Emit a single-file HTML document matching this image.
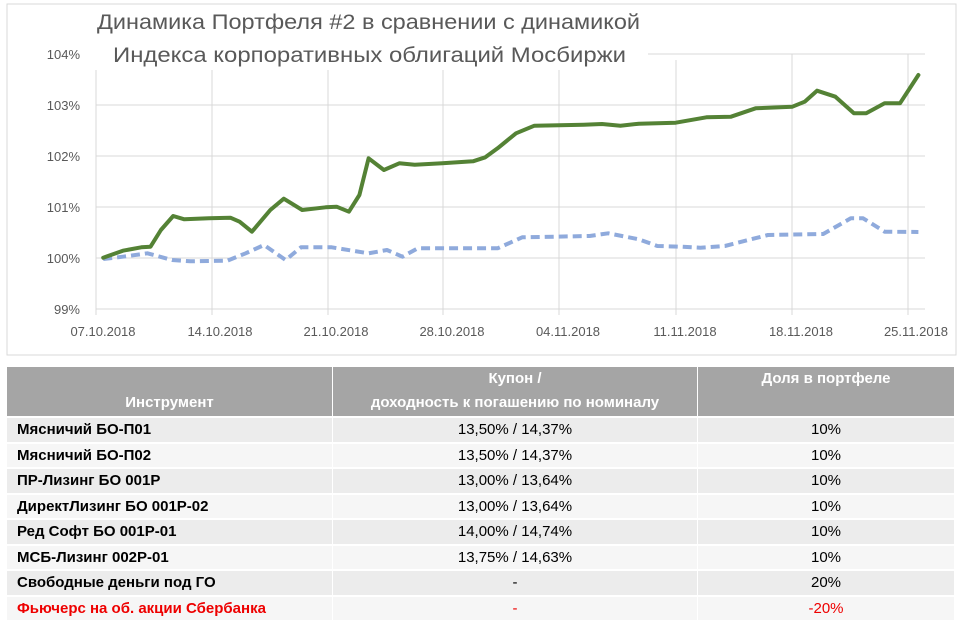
<!DOCTYPE html>
<html><head><meta charset="utf-8"><style>
body{margin:0;width:960px;height:623px;background:#fff;overflow:hidden;font-family:"Liberation Sans",sans-serif}
svg{position:absolute;left:0;top:0}
table{position:absolute;left:6px;top:365px;width:949px;border-collapse:collapse;font-size:15px}
td,th{padding:0 10px;border:1px solid #fff;border-top:2px solid #fff}
td{height:23.5px}
th{background:#a5a5a5;color:#fff;font-weight:bold;vertical-align:bottom;padding-bottom:1px;height:45px;line-height:24px}
td{color:#000}
td:first-child{font-weight:bold;text-align:left}
td:nth-child(2),td:nth-child(3){text-align:center;border-left:1px solid #d0d0d0}
tr.o td{background:#ececec}
tr.e td{background:#f6f6f6}
tr.r td{color:#e00}
</style></head><body>
<svg width="960" height="623">
<rect x="7" y="4" width="949" height="351" fill="#fff" stroke="#d9d9d9"/>
<g stroke="#d9d9d9" stroke-width="1">
<line x1="96" y1="105" x2="925" y2="105"/><line x1="96" y1="156" x2="925" y2="156"/><line x1="96" y1="207" x2="925" y2="207"/><line x1="96" y1="258" x2="925" y2="258"/><line x1="96" y1="309" x2="925" y2="309"/>
<line x1="648" y1="54" x2="925" y2="54"/>
<line x1="96" y1="70" x2="96" y2="315"/>
<line x1="212" y1="70" x2="212" y2="315"/><line x1="328" y1="70" x2="328" y2="315"/><line x1="443" y1="70" x2="443" y2="315"/><line x1="559" y1="70" x2="559" y2="315"/><line x1="676" y1="60" x2="676" y2="315"/><line x1="792" y1="54" x2="792" y2="315"/><line x1="908" y1="54" x2="908" y2="315"/>
</g>
<g font-size="13" fill="#595959" text-anchor="end">
<text x="80" y="59">104%</text><text x="80" y="110">103%</text><text x="80" y="161">102%</text><text x="80" y="212">101%</text><text x="80" y="263">100%</text><text x="80" y="314">99%</text>
</g>
<g font-size="13" fill="#595959" text-anchor="middle">
<text x="103" y="336">07.10.2018</text><text x="220" y="336">14.10.2018</text><text x="336" y="336">21.10.2018</text><text x="452" y="336">28.10.2018</text><text x="568" y="336">04.11.2018</text><text x="685" y="336">11.11.2018</text><text x="801" y="336">18.11.2018</text><text x="916" y="336">25.11.2018</text>
</g>
<g font-size="21" fill="#595959">
<text x="97" y="29" textLength="543" lengthAdjust="spacingAndGlyphs">Динамика Портфеля #2 в сравнении с динамикой</text>
<text x="113" y="62" textLength="513" lengthAdjust="spacingAndGlyphs">Индекса корпоративных облигаций Мосбиржи</text>
</g>
<g fill="none" stroke-linejoin="round">
<polyline stroke="#8faadc" stroke-width="4" stroke-dasharray="9 5" points="103.2,259 122.9,256.7 147.4,253.3 172,260 190.4,261.3 227.3,260.7 245.7,253.3 264.1,245 285.6,260 301,247.3 331.7,247.3 368.6,253.3 387,250 402.4,256.7 417.7,248.3 497.6,248.3 522.2,237.3 589.7,236 608.2,233.3 638.9,239.3 657.3,246 681.9,246.7 700.3,247.7 724.9,246 767.9,235 823.2,234 850.8,218.3 863.1,218.3 884.6,231.7 918.4,232"/>
<polyline stroke="#548235" stroke-width="4" stroke-linecap="round" points="103.2,257.7 122.9,250.7 141.3,247.3 150.5,246.7 160.9,230 173.2,216 184.3,219.3 208.9,218.3 230.4,217.7 239.6,221.7 251.9,231.7 270.3,210 283.8,198.7 302.2,210 325.6,207.3 336.6,206.7 348.9,211.7 359.4,195 368.6,158.3 383.9,170 399.3,163.3 414.7,164.7 442.3,163.3 473,161.3 485.3,157.3 497.6,148.3 516,133.3 534.4,125.7 583.6,124.7 602,124 620.4,125.7 638.9,123.7 675.7,122.7 706.4,117.3 731,116.7 755.6,108.3 792.4,106.7 804.7,101.7 817,90.7 835.4,96.7 853.9,113.3 866.2,113.3 884.6,103.3 900,103.3 918.4,75"/>
</g>
</svg>
<table>
<tr><th style="width:305px">Инструмент</th><th style="width:344px">Купон /<br>доходность к погашению по номиналу</th><th style="vertical-align:top;padding-top:0">Доля в портфеле</th></tr>
<tr class="o"><td>Мясничий БО-П01</td><td>13,50% / 14,37%</td><td>10%</td></tr>
<tr class="e"><td>Мясничий БО-П02</td><td>13,50% / 14,37%</td><td>10%</td></tr>
<tr class="o"><td>ПР-Лизинг БО 001Р</td><td>13,00% / 13,64%</td><td>10%</td></tr>
<tr class="e"><td>ДиректЛизинг БО 001Р-02</td><td>13,00% / 13,64%</td><td>10%</td></tr>
<tr class="o"><td>Ред Софт БО 001Р-01</td><td>14,00% / 14,74%</td><td>10%</td></tr>
<tr class="e"><td>МСБ-Лизинг 002Р-01</td><td>13,75% / 14,63%</td><td>10%</td></tr>
<tr class="o"><td>Свободные деньги под ГО</td><td>-</td><td>20%</td></tr>
<tr class="e r"><td>Фьючерс на об. акции Сбербанка</td><td>-</td><td>-20%</td></tr>
</table>
</body></html>
